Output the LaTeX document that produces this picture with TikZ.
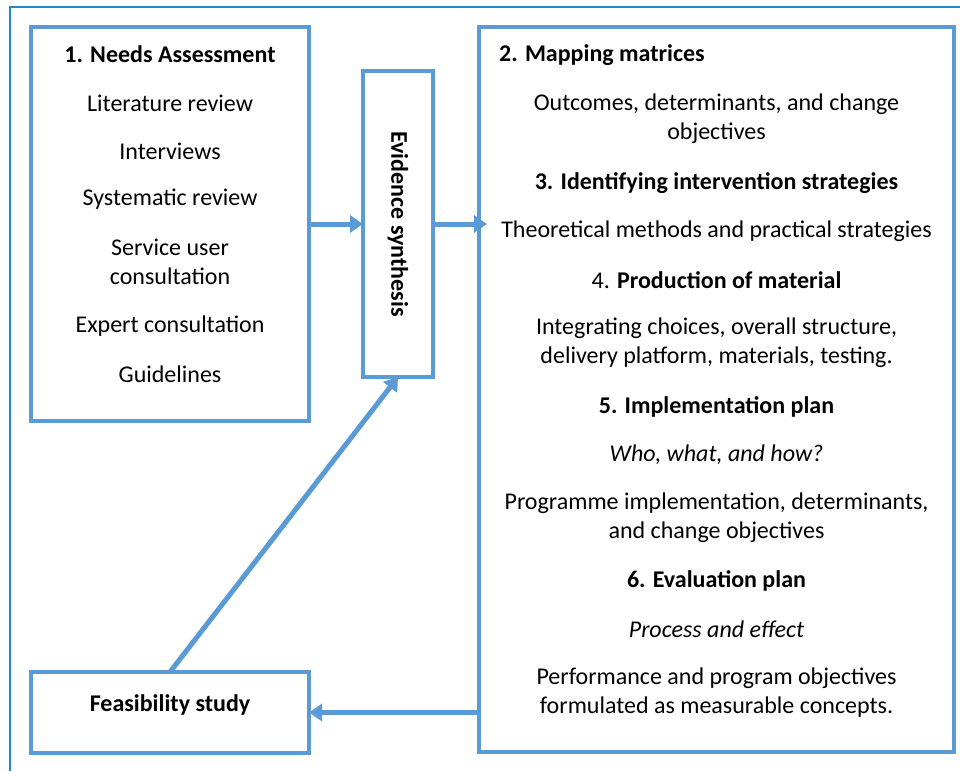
\documentclass[tikz,border=0pt]{standalone}
\usepackage{fontspec}
\setmainfont{Carlito}
\usetikzlibrary{arrows.meta,calc}
\definecolor{boxblue}{HTML}{5B9BD5}
\definecolor{frameblue}{HTML}{1E88C8}
\newcommand{\fsz}{\fontsize{24}{29}\selectfont}
\tikzset{
  box/.style={draw=boxblue,line width=3.5pt,inner sep=0pt,outer sep=0pt,fill=white},
  txt/.style={inner sep=0pt,align=center,font=\fsz},
  btxt/.style={txt,font=\fsz\bfseries},
  itxt/.style={txt,font=\fsz\itshape},
  conn/.style={draw=boxblue,line width=5pt,-{Triangle[length=13pt,width=17pt]}}
}
\begin{document}
\begin{tikzpicture}[x=1pt,y=-1pt]
\useasboundingbox (0,0) rectangle (960,771);
\fill[white] (0,0) rectangle (960,771);
\draw[frameblue,line width=2pt] (10,771) -- (10,7) -- (961,7);
% boxes
\node[box,minimum width=278pt,minimum height=394pt] (needs) at (170,224) {};
\node[box,minimum width=70pt,minimum height=306pt] (evid) at (398,224) {};
\node[box,minimum width=475pt,minimum height=725pt] (big) at (716.5,389.5) {};
\node[box,minimum width=278pt,minimum height=81pt] (feas) at (170,712.5) {};
% box 1 texts
\node[btxt] (n0) at (170,54) {1. Needs Assessment};
\node[txt] (n1) at (170,103) {Literature review};
\node[txt] (n2) at (170,151) {Interviews};
\node[txt] (n3) at (170,199) {Systematic review};
\node[txt] (n4) at (170,262) {Service user\\consultation};
\node[txt] (n5) at (170,326) {Expert consultation};
\node[txt] (n6) at (170,374) {Guidelines};
% evidence synthesis
\node[btxt,rotate=-90] (es) at (398,224) {Evidence synthesis};
% feasibility
\node[btxt] (fs) at (170,705) {Feasibility study};
% big box texts
\node[btxt,anchor=west] (b0) at (499,55) {2. Mapping matrices};
\node[txt] (b1) at (716.5,118.5) {Outcomes, determinants, and change\\objectives};
\node[btxt] (b2) at (716.5,183) {3. Identifying intervention strategies};
\node[txt] (b3) at (716.5,231) {Theoretical methods and practical strategies};
\node[txt] (b4) at (716.5,280) {4. \textbf{Production of material}};
\node[txt] (b5) at (716.5,342.5) {Integrating choices, overall structure,\\delivery platform, materials, testing.};
\node[btxt] (b6) at (716.5,407) {5. Implementation plan};
\node[itxt] (b7) at (716.5,455) {Who, what, and how?};
\node[txt] (b8) at (716.5,517.5) {Programme implementation, determinants,\\and change objectives};
\node[btxt] (b9) at (716.5,581) {6. Evaluation plan};
\node[itxt] (b10) at (716.5,629) {Process and effect};
\node[txt] (b11) at (716.5,692.5) {Performance and program objectives\\formulated as measurable concepts.};
% connectors
\draw[conn] (needs.east) -- (evid.west);
\draw[conn,shorten >=-8pt] (evid.east) -- (big.west |- evid.east);
\draw[conn] (big.west |- feas.east) -- (feas.east);
\draw[conn] (feas.north) -- (evid.south);
\end{tikzpicture}
\end{document}
